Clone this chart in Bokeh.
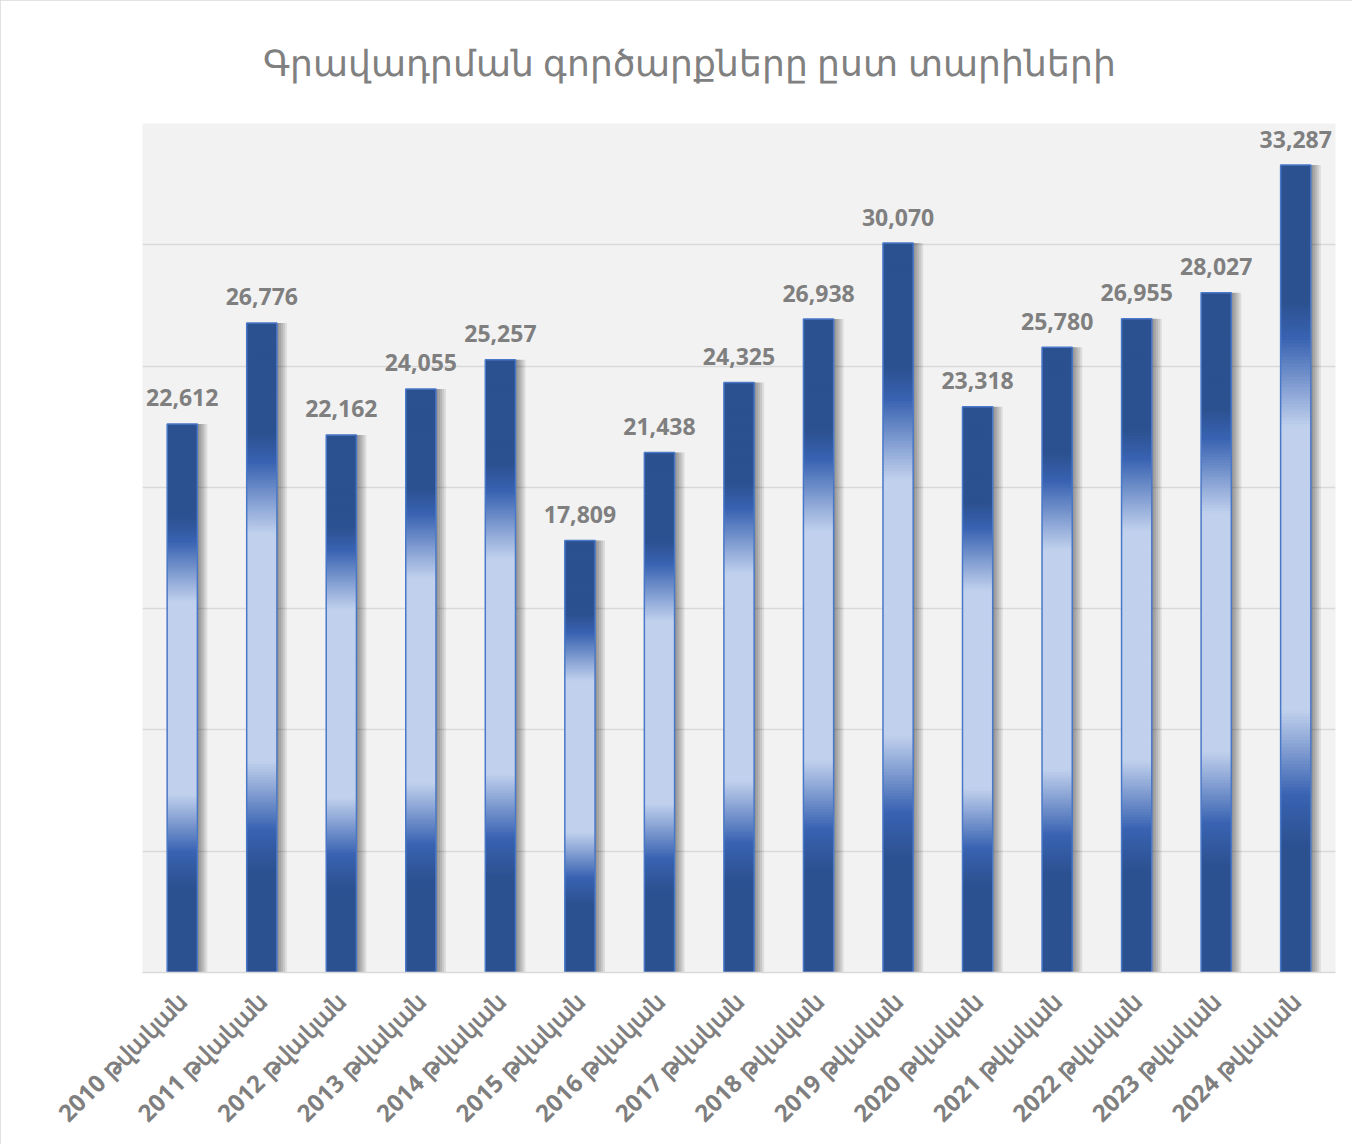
import numpy as np
from bokeh.plotting import figure
from bokeh.models import ColumnDataSource, SingleIntervalTicker, FactorRange
from bokeh.transform import dodge
from bokeh.core.properties import value
from bokeh.embed import file_html
from bokeh.resources import INLINE

years = ["2010", "2011", "2012", "2013", "2014", "2015", "2016", "2017",
         "2018", "2019", "2020", "2021", "2022", "2023", "2024"]
categories = [y + " թվական" for y in years]
deals = [22612, 26776, 22162, 24055, 25257, 17809, 21438, 24325,
         26938, 30070, 23318, 25780, 26955, 28027, 33287]
labels = ["{:,}".format(v) for v in deals]

title = "Գրավադրման գործարքները ըստ տարիների"

# gradient stops (fraction of bar height from bottom, rgb)
DARK = (44, 81, 144)
MID = (57, 99, 178)
LIGHT = (193, 209, 237)
stops = [(0.0, DARK), (0.155, DARK), (0.22, MID), (0.325, LIGHT),
         (0.675, LIGHT), (0.785, MID), (0.83, DARK), (1.0, DARK)]

def grad_color(f):
    for (f0, c0), (f1, c1) in zip(stops[:-1], stops[1:]):
        if f0 <= f <= f1:
            t = 0 if f1 == f0 else (f - f0) / (f1 - f0)
            c = [int(round(a + (b - a) * t)) for a, b in zip(c0, c1)]
            return "#%02x%02x%02x" % tuple(c)
    return "#%02x%02x%02x" % DARK

N = 240
edges = np.linspace(0, 1, N + 1)
sx, sb, st, sc = [], [], [], []
for cat, v in zip(categories, deals):
    for i in range(N):
        sx.append(cat)
        sb.append(v * edges[i])
        st.append(min(v, v * edges[i + 1] + 45))
        sc.append(grad_color((edges[i] + edges[i + 1]) / 2))
slices = ColumnDataSource(dict(x=sx, bottom=sb, top=st, color=sc))

src = ColumnDataSource(dict(x=categories, top=deals, label=labels))

p = figure(x_range=FactorRange(*categories, range_padding=0), y_range=(0, 35000),
           width=1352, height=1144, output_backend="svg", toolbar_location=None,
           min_border_left=142, min_border_right=17, min_border_top=123,
           min_border_bottom=172)
p.styles = {"outline": "1px solid #d9d9d9", "outline-offset": "-1px"}

p.title.text = title
p.title.text_font = "Noto Sans"
p.title.text_font_style = "normal"
p.title.text_font_size = "36px"
p.title.text_color = "#808080"
p.title.align = "left"
p.title.offset = 120
p.title.standoff = 70
p.title.vertical_align = "top"
p.title.text_line_height = 0.75

p.background_fill_color = "#f2f2f2"
p.border_fill_color = "white"
p.outline_line_color = None

p.xgrid.grid_line_color = None
p.ygrid.ticker = SingleIntervalTicker(interval=5000)
p.ygrid.grid_line_color = "#d9d9d9"
p.ygrid.grid_line_width = 1.5
p.yaxis.visible = False

p.xaxis.axis_line_color = "#d9d9d9"
p.xaxis.axis_line_width = 1.5
p.xaxis.major_tick_line_color = None
p.xaxis.minor_tick_line_color = None
p.xaxis.major_label_orientation = np.pi / 4
p.xaxis.major_label_text_font = "Noto Sans"
p.xaxis.major_label_text_font_style = "bold"
p.xaxis.major_label_text_font_size = "24px"
p.xaxis.major_label_text_color = "#7f7f7f"
p.xaxis.major_label_standoff = 18

BW = 0.38
px = 1.0 / 79.5
# shadow
for k in (2, 4, 6, 8, 10):
    p.vbar(x=dodge("x", k * px, range=p.x_range), top="top", bottom=0,
           width=BW, fill_color="black", fill_alpha=0.09, line_color=None,
           source=src)

p.vbar(x="x", bottom="bottom", top="top", width=BW, fill_color="color",
       line_color=None, source=slices)
p.vbar(x="x", top="top", bottom=0, width=BW, fill_color=None,
       line_color="#4a78c8", line_width=1.5, source=src)

p.text(x="x", y="top", text="label", source=src, text_align="center",
       text_baseline="alphabetic", y_offset=-26, text_font=value("Open Sans"),
       text_font_style="bold", text_font_size="23px", text_color="#7f7f7f")

open("out.html", "w").write(file_html(p, INLINE))
